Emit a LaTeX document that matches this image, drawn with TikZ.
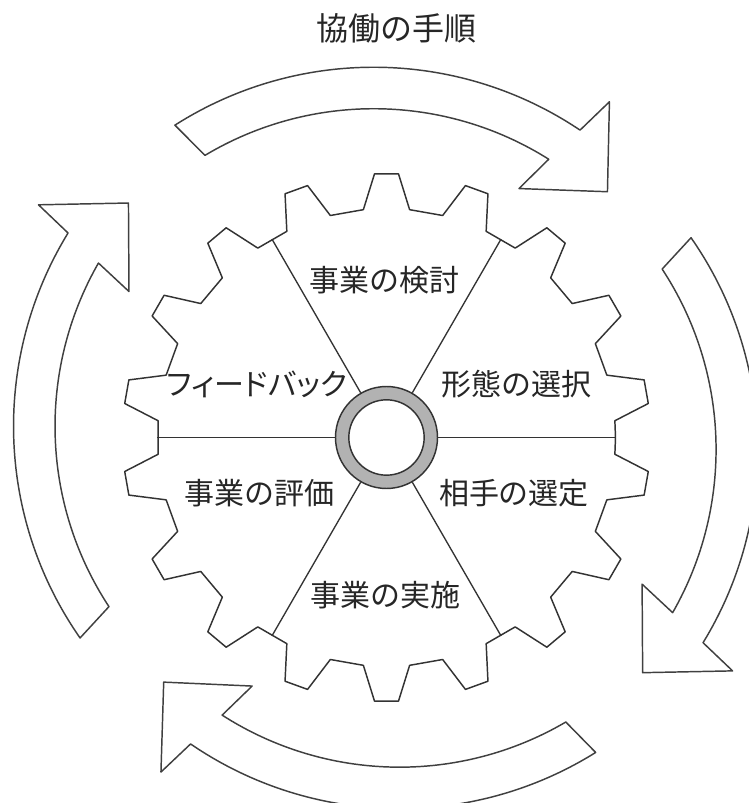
\documentclass[tikz,border=0pt]{standalone}
\usepackage{fontspec}
\usepackage{tikz}
\newfontfamily\jpfont{Noto Sans CJK JP}
\newfontfamily\jpkana[RawFeature=+palt]{Noto Sans CJK JP}

\begin{document}
\begin{tikzpicture}[x=0.75pt, y=0.75pt, line join=round]
        \tikzstyle{every node}=[font=\jpfont\fontsize{22.5}{27}\selectfont, text=black!85]
        \tikzstyle{gearline}=[draw=black!80, line width=1.1pt]
        \tikzstyle{spoke}=[draw=black!80, line width=1pt]
        \tikzstyle{arrowline}=[draw=black!75, line width=1.1pt, fill=white]
        \tikzset{turn/.pic={
            \path[arrowline] (123.7:370) arc[start angle=123.7, end angle=57.3, radius=370]
              -- (56.1:410) -- (47.6:339) -- (60.9:288) -- (59:328.5)
              arc[start angle=59, end angle=122.1, radius=328.5] -- cycle;
          }}
        \useasboundingbox (-386.5,-365.5) rectangle (362.5,437.5);
        \node (title) at (10.5,409.5) {\fontsize{24}{29}\selectfont 協働の手順};
        % arrows round the gear
        \pic[rotate=-1.2] at (-12.8,0.3) {turn};
        \pic[rotate=-88.8] at (1.1,-11.9) {turn};
        \pic[rotate=178.3] at (13.1,-1.2) {turn};
        \pic[rotate=91.2] at (-3,11.2) {turn};
        % gear, 18 teeth
        \draw[gearline, fill=white] (0:229) \foreach \c in {10,30,...,350} {
            -- ({\c-5.8}:229) -- ({\c-2.6}:264) -- ({\c+2.6}:264) -- ({\c+5.8}:229)} -- cycle;
        \node [circle, gearline, fill=gray!60, minimum size=76.5pt, inner sep=0pt] (hub) at (0,0) {};
        \node [circle, gearline, fill=white, minimum size=56.5pt, inner sep=0pt] (hole) at (0,0) {};
        \foreach \a in {0,60,...,300} \draw[spoke] (hub.\a) -- (\a:229);
        \node (plan) at (-1.5,157.5) {事業の検討};
        \node (form) at (129.5,53.5) {形態の選択};
        \node (partner) at (127.5,-55.5) {相手の選定};
        \node (run) at (-0.5,-157.5) {事業の実施};
        \node (review) at (-126.5,-55.5) {事業の評価};
        \node (feedback) at (-129.5,53.5) {\jpkana フィードバック};
      \end{tikzpicture}
\end{document}
